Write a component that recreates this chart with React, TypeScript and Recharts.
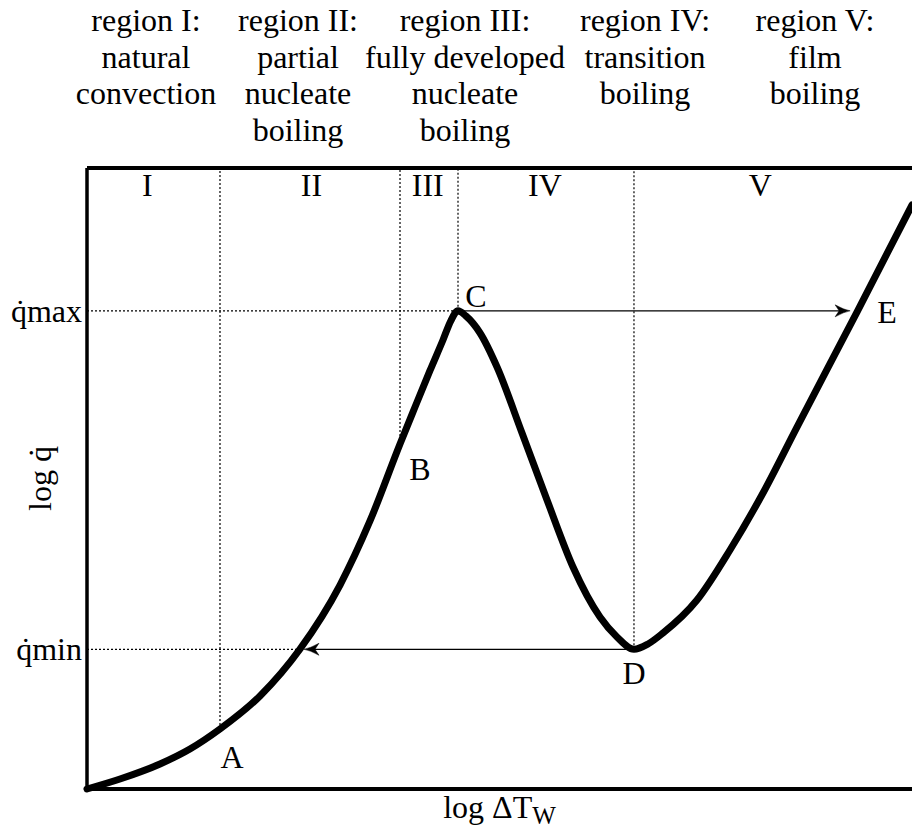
import { LineChart, Line, XAxis, YAxis, ReferenceLine, ReferenceDot, Label } from 'recharts';

// boiling curve (x: log ΔT_W, y: log q̇, both 0..100)
const curveX = [0, 4.0, 8.85, 12.48, 16.12, 20.97, 25.82, 30.67, 34.3, 37.94, 39.76, 41.58, 43.15, 44.1, 44.97, 45.9, 47.64, 49.7, 52.73, 55.76, 58.91, 62.18, 64.24, 66.3, 68.0, 69.82, 73.94, 77.94, 81.94, 86.06, 93.33, 100];
const curveY = [0, 1.61, 4.03, 6.44, 9.66, 14.98, 22.54, 32.85, 43.16, 55.56, 61.51, 67.4, 72.3, 75.4, 77.0, 76.2, 73.43, 67.95, 57.33, 46.54, 35.75, 27.7, 24.48, 22.5, 23.35, 25.12, 30.43, 38.49, 47.67, 58.29, 76.81, 94.04];

const Q_MAX = 77;
const Q_MIN = 22.5;

// named points on the curve
const pointNames = ['A', 'B', 'C', 'D', 'E'];
const pointX = [16.12, 37.94, 44.97, 66.3, 93.33];
const pointY = [9.66, 55.56, Q_MAX, Q_MIN, Q_MAX];
const pointOffset = [
  [12, 39],
  [20, 36],
  [18, -4],
  [0, 35],
  [30, 12],
];

// where the q̇min dotted line meets the curve, and arrow tips
const qMinCrossX = 25.82;
const arrowTipE = 92.5;
const arrowTipMin = 26.3;

const regionNumerals = ['I', 'II', 'III', 'IV', 'V'];
const regionNumeralX = [7.3, 27.2, 41.3, 55.5, 81.6];

const regionHeadings = [
  ['region I:', 'natural', 'convection'],
  ['region II:', 'partial', 'nucleate', 'boiling'],
  ['region III:', 'fully developed', 'nucleate', 'boiling'],
  ['region IV:', 'transition', 'boiling'],
  ['region V:', 'film', 'boiling'],
];
const headingCenters = [146, 298, 465, 645, 815];

const FONT = '"Liberation Serif", "Times New Roman", serif';

const data = curveX.map((x, i) => ({ x, y: curveY[i] }));

function ArrowLine(props: any) {
  const { x1, y1, x2, y2 } = props;
  const len = Math.hypot(x2 - x1, y2 - y1) || 1;
  const ux = (x2 - x1) / len;
  const uy = (y2 - y1) / len;
  const px = -uy;
  const py = ux;
  const L = 15;
  const W = 6;
  const bx = x2 - ux * L;
  const by = y2 - uy * L;
  const nx = x2 - ux * (L - 4);
  const ny = y2 - uy * (L - 4);
  const d = `M${x2},${y2} Q${x2 - ux * 6 + px * 1},${y2 - uy * 6 + py * 1} ${bx + px * W},${by + py * W} L${nx},${ny} L${bx - px * W},${by - py * W} Q${x2 - ux * 6 - px * 1},${y2 - uy * 6 - py * 1} ${x2},${y2} Z`;
  return (
    <g>
      <line x1={x1} y1={y1} x2={nx} y2={ny} stroke="#000" strokeWidth={1.3} />
      <path d={d} fill="#000" stroke="#000" strokeWidth={0.5} />
    </g>
  );
}

function QTick(props: any) {
  const { x, y, payload } = props;
  const sub = payload.value === Q_MAX ? 'max' : 'min';
  return (
    <text x={x + 1} y={y + 11} textAnchor="end" fontFamily={FONT} fontSize={32} fill="#000">
      {'q\u0307'}
      <tspan>{sub}</tspan>
    </text>
  );
}

function pointLabel(name: string, dx: number, dy: number) {
  return (p: any) => (
    <text x={p.cx + dx} y={p.cy + dy} textAnchor="middle" fontFamily={FONT} fontSize={32} fill="#000">
      {name}
    </text>
  );
}

export default function App() {
  const dotted = { stroke: '#000', strokeWidth: 1.2, strokeDasharray: '2 2' };
  return (
    <div style={{ position: 'absolute', left: 0, top: 0, width: 912, height: 834, overflow: 'hidden', background: '#fff' }}>
      {regionHeadings.map((lines, i) => (
        <div
          key={i}
          style={{
            position: 'absolute',
            top: 2,
            left: headingCenters[i] - 120,
            width: 240,
            textAlign: 'center',
            fontFamily: FONT,
            fontSize: 32,
            lineHeight: '36.7px',
            color: '#000',
            whiteSpace: 'nowrap',
          }}
        >
          {lines.map((t) => (
            <div key={t}>{t}</div>
          ))}
        </div>
      ))}
      <LineChart width={912} height={834} data={data} margin={{ top: 168, right: 0, bottom: 0, left: 0 }}>
        <XAxis
          type="number"
          dataKey="x"
          domain={[0, 100]}
          ticks={[]}
          tick={false}
          tickLine={false}
          height={45}
          axisLine={{ stroke: '#000', strokeWidth: 4 }}
        >
          <Label
            content={(p: any) => {
              const vb = p.viewBox;
              return (
                <text x={vb.x + vb.width / 2} y={818} textAnchor="middle" fontFamily={FONT} fontSize={32} fill="#000">
                  log ΔT
                  <tspan fontSize={25} dy={6}>W</tspan>
                </text>
              );
            }}
          />
        </XAxis>
        <YAxis
          type="number"
          domain={[0, 100]}
          ticks={[Q_MIN, Q_MAX]}
          tick={<QTick />}
          tickLine={false}
          tickSize={0}
          tickMargin={6}
          width={87}
          axisLine={{ stroke: '#000', strokeWidth: 3.5 }}
        >
          <Label
            content={(p: any) => {
              const vb = p.viewBox;
              const cy = vb.y + vb.height / 2;
              return (
                <text
                  x={51}
                  y={cy}
                  transform={`rotate(-90 51 ${cy})`}
                  textAnchor="middle"
                  fontFamily={FONT}
                  fontSize={32}
                  fill="#000"
                >
                  {'log q\u0307'}
                </text>
              );
            }}
          />
        </YAxis>

        <ReferenceLine y={100} stroke="#000" strokeWidth={4} ifOverflow="visible" />

        {/* dotted guides */}
        <ReferenceLine segment={[{ x: 0, y: Q_MAX }, { x: pointX[2], y: Q_MAX }]} {...dotted} />
        <ReferenceLine segment={[{ x: 0, y: Q_MIN }, { x: qMinCrossX, y: Q_MIN }]} {...dotted} />
        {[0, 1, 2, 3].map((i) => (
          <ReferenceLine key={`v${i}`} segment={[{ x: pointX[i], y: pointY[i] }, { x: pointX[i], y: 100 }]} {...dotted} />
        ))}

        {/* jumps C→E and D→qmin */}
        <ReferenceLine segment={[{ x: pointX[2], y: Q_MAX }, { x: arrowTipE, y: Q_MAX }]} shape={<ArrowLine />} />
        <ReferenceLine segment={[{ x: pointX[3], y: Q_MIN }, { x: arrowTipMin, y: Q_MIN }]} shape={<ArrowLine />} />

        <Line
          type="monotone"
          dataKey="y"
          stroke="#000"
          strokeWidth={7}
          dot={false}
          activeDot={false}
          isAnimationActive={false}
          strokeLinecap="round"
        />

        {pointNames.map((n, i) => (
          <ReferenceDot
            key={n}
            x={pointX[i]}
            y={pointY[i]}
            r={0}
            ifOverflow="visible"
            shape={pointLabel(n, pointOffset[i][0], pointOffset[i][1])}
          />
        ))}
        {regionNumerals.map((n, i) => (
          <ReferenceDot key={n} x={regionNumeralX[i]} y={100} r={0} ifOverflow="visible" shape={pointLabel(n, 0, 28)} />
        ))}
      </LineChart>
    </div>
  );
}
